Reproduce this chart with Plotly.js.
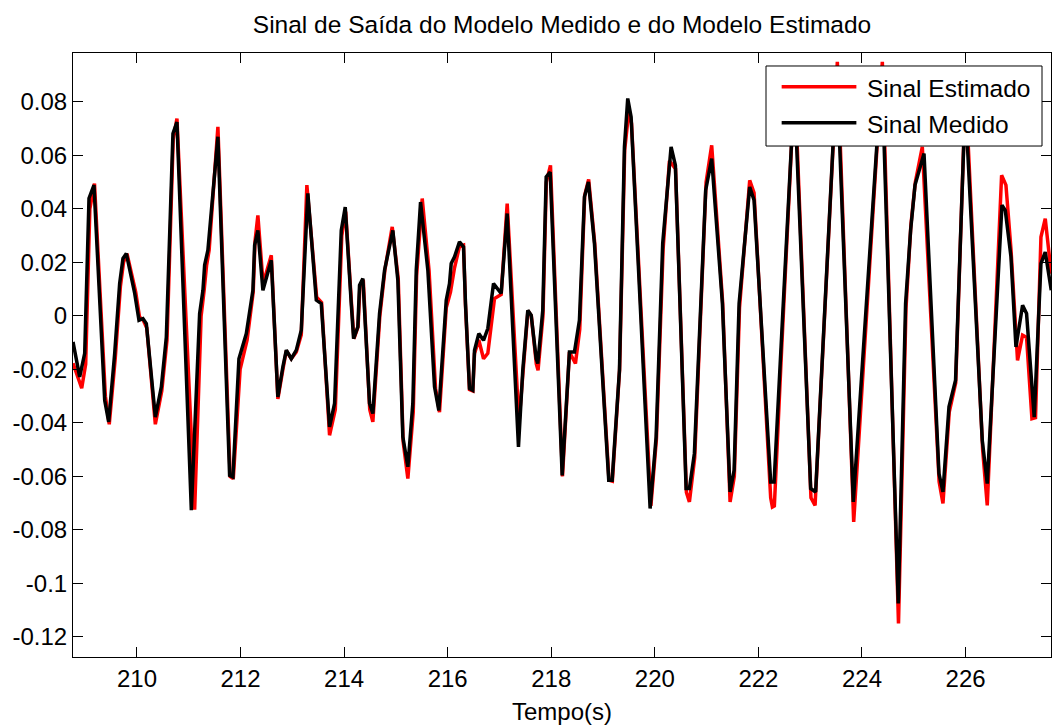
<!DOCTYPE html>
<html>
<head>
<meta charset="utf-8">
<script src="https://cdn.plot.ly/plotly-3.0.1.min.js"></script>
<style>html,body{margin:0;padding:0;background:#fff;}#chart{width:1053px;height:725px;}</style>
</head>
<body>
<div id="chart"></div>
<script>
// ---- data ----
var tMedido = [208.765,208.894,208.991,209.074,209.170,209.377,209.454,209.570,209.666,209.730,209.795,209.956,210.039,210.116,210.181,210.355,210.471,210.567,210.695,210.772,211.050,211.210,211.274,211.307,211.370,211.563,211.789,211.853,211.969,212.112,212.239,212.272,212.335,212.432,212.594,212.721,212.818,212.884,212.980,213.077,213.173,213.300,213.463,213.559,213.719,213.816,213.945,214.022,214.138,214.183,214.265,214.298,214.362,214.491,214.555,214.684,214.781,214.941,215.038,215.134,215.231,215.327,215.393,215.476,215.617,215.746,215.829,215.972,216.035,216.068,216.132,216.228,216.306,216.344,216.421,216.485,216.518,216.601,216.692,216.775,216.885,217.033,217.149,217.367,217.450,217.547,217.612,217.709,217.740,217.836,217.902,217.979,218.211,218.351,218.448,218.544,218.641,218.718,218.834,219.110,219.176,219.317,219.413,219.477,219.542,219.909,220.025,220.152,220.314,220.397,220.604,220.668,220.764,220.982,221.098,221.305,221.453,221.531,221.627,221.832,221.916,222.237,222.303,222.430,222.694,223.009,223.105,223.514,223.833,224.383,224.701,224.842,224.939,225.024,225.198,225.487,225.564,225.680,225.807,225.994,226.323,226.419,226.703,226.767,226.877,226.973,227.101,227.178,227.326,227.456,227.539,227.655];
var yMedido = [-0.0097,-0.0228,-0.014,0.044,0.0489,-0.0315,-0.0396,-0.014,0.0122,0.0215,0.0233,0.0085,-0.0016,-0.001,-0.0029,-0.0378,-0.0265,-0.0079,0.0682,0.0725,-0.0726,0.0009,0.0096,0.019,0.0246,0.067,-0.0596,-0.0602,-0.016,-0.0066,0.0096,0.0264,0.032,0.0096,0.0208,-0.0303,-0.019,-0.0128,-0.016,-0.0128,-0.0053,0.0458,0.0059,0.0046,-0.0415,-0.0327,0.032,0.0407,0.0046,-0.0085,-0.0041,0.0115,0.014,-0.0327,-0.0365,0.0009,0.0171,0.032,0.0133,-0.0452,-0.0564,-0.0327,0.0171,0.0426,0.0171,-0.0265,-0.0353,0.0059,0.0121,0.0196,0.0221,0.0277,0.0258,0.0046,-0.0271,-0.0278,-0.0128,-0.0066,-0.0091,-0.0047,0.0121,0.0084,0.0383,-0.049,-0.0203,0.0021,0.0003,-0.016,-0.0178,0.0021,0.052,0.0538,-0.0596,-0.0135,-0.0135,-0.0016,0.0445,0.0501,0.0271,-0.0614,-0.0614,-0.0203,0.0632,0.0813,0.0744,-0.072,-0.0452,0.0271,0.0632,0.0563,-0.0645,-0.0645,-0.0514,0.047,0.0588,0.0046,-0.0658,-0.0577,0.0046,0.0482,0.0433,-0.0621,-0.0621,-0.014,0.085,-0.0645,-0.0658,0.092,-0.0695,0.092,-0.1075,0.0046,0.032,0.0489,0.0607,-0.0589,-0.0658,-0.034,-0.024,0.08,-0.0465,-0.0627,0.0414,0.0395,0.0221,-0.0116,0.004,0.0009,-0.0378,0.0196,0.0239,0.0096];

var tEstimado = [208.765,208.933,209.010,209.090,209.180,209.390,209.465,209.580,209.680,209.740,209.807,209.975,210.050,210.120,210.190,210.355,210.480,210.580,210.700,210.772,211.114,211.239,211.297,211.345,211.394,211.563,211.800,211.860,211.992,212.127,212.245,212.280,212.335,212.436,212.594,212.721,212.818,212.884,212.980,213.077,213.173,213.281,213.470,213.565,213.719,213.830,213.955,214.030,214.145,214.190,214.270,214.305,214.370,214.495,214.555,214.690,214.790,214.929,215.045,215.140,215.231,215.335,215.400,215.508,215.640,215.765,215.842,215.972,216.055,216.132,216.228,216.306,216.344,216.421,216.485,216.518,216.601,216.692,216.775,216.904,217.033,217.149,217.377,217.455,217.550,217.615,217.712,217.745,217.840,217.905,217.985,218.217,218.351,218.467,218.550,218.645,218.722,218.840,219.115,219.180,219.320,219.418,219.500,219.550,219.924,220.031,220.160,220.282,220.400,220.610,220.668,220.770,220.990,221.098,221.310,221.453,221.535,221.635,221.832,221.916,222.237,222.270,222.308,222.440,222.700,223.015,223.094,223.524,223.840,224.393,224.705,224.850,224.945,225.030,225.165,225.490,225.564,225.685,225.810,226.000,226.330,226.419,226.696,226.780,226.877,227.004,227.101,227.178,227.282,227.351,227.456,227.539,227.655];
var yEstimado = [-0.0177,-0.027,-0.018,0.040,0.0495,-0.030,-0.0405,-0.016,0.011,0.020,0.0233,0.009,-0.0005,-0.0015,-0.0045,-0.0405,-0.028,-0.009,0.066,0.0738,-0.0724,0.000,0.0096,0.019,0.0246,0.0707,-0.060,-0.0608,-0.020,-0.009,0.009,0.028,0.0376,0.012,0.0227,-0.031,-0.020,-0.013,-0.016,-0.0135,-0.007,0.0489,0.007,0.005,-0.0446,-0.035,0.030,0.039,0.004,-0.0085,-0.004,0.011,0.0135,-0.035,-0.0396,0.000,0.0175,0.0333,0.014,-0.047,-0.0608,-0.036,0.015,0.0439,0.017,-0.027,-0.036,0.003,0.009,0.018,0.026,0.0265,0.004,-0.0275,-0.028,-0.014,-0.009,-0.016,-0.014,0.0065,0.008,0.042,-0.040,-0.020,0.002,0.000,-0.018,-0.0203,0.000,0.050,0.0563,-0.060,-0.0135,-0.0178,-0.005,0.045,0.051,0.027,-0.0614,-0.0618,-0.020,0.062,0.077,0.072,-0.071,-0.046,0.025,0.058,0.055,-0.066,-0.0695,-0.053,0.050,0.0638,0.005,-0.0695,-0.060,0.003,0.0507,0.046,-0.068,-0.0714,-0.071,-0.016,0.088,-0.068,-0.0708,0.095,-0.077,0.095,-0.115,0.003,0.034,0.050,0.0632,-0.062,-0.0701,-0.036,-0.025,0.085,-0.050,-0.0708,0.0526,0.0489,0.025,-0.0166,-0.0072,-0.008,-0.0384,-0.038,0.0295,0.0364,0.0158];

var xTickVals = [210,212,214,216,218,220,222,224,226];
var xTickText = ["210","212","214","216","218","220","222","224","226"];
var yTickVals = [0.08,0.06,0.04,0.02,0,-0.02,-0.04,-0.06,-0.08,-0.1,-0.12];
var yTickText = ["0.08","0.06","0.04","0.02","0","-0.02","-0.04","-0.06","-0.08","-0.1","-0.12"];

var seriesNames = ["Sinal Estimado","Sinal Medido"];
var seriesColors = ["#ff0000","#000000"];

var FONT = "'Liberation Sans', Arial, Helvetica, sans-serif";

var traces = [
  {x: tEstimado, y: yEstimado, type: "scatter", mode: "lines", name: seriesNames[0],
   line: {color: seriesColors[0], width: 3.5}, showlegend: false, hoverinfo: "skip"},
  {x: tMedido, y: yMedido, type: "scatter", mode: "lines", name: seriesNames[1],
   line: {color: seriesColors[1], width: 3.5}, showlegend: false, hoverinfo: "skip"}
];

// legend box (paper coordinates)
var lgX0 = 0.7086, lgX1 = 0.9908, lgY0 = 0.846, lgY1 = 0.9785;
var lgLineX0 = 0.7246, lgLineX1 = 0.8010, lgTextX = 0.8098;
var lgRowY = [0.9442, 0.8846];
var lgTextY = [0.9410, 0.8810];

var shapes = [
  {type: "rect", xref: "paper", yref: "paper", x0: lgX0, x1: lgX1, y0: lgY0, y1: lgY1,
   fillcolor: "#ffffff", line: {color: "#000000", width: 1}, layer: "above"}
];
var annotations = [];
for (var i = 0; i < seriesNames.length; i++) {
  shapes.push({type: "line", xref: "paper", yref: "paper", x0: lgLineX0, x1: lgLineX1,
    y0: lgRowY[i], y1: lgRowY[i], line: {color: seriesColors[i], width: 3.5}, layer: "above"});
  annotations.push({xref: "paper", yref: "paper", x: lgTextX, y: lgTextY[i], xanchor: "left",
    yanchor: "middle", text: seriesNames[i], showarrow: false,
    font: {family: FONT, size: 24.5, color: "#000"}});
}

var layout = {
  width: 1053, height: 725,
  margin: {l: 73, r: 2, t: 53, b: 68, pad: 0},
  paper_bgcolor: "#ffffff", plot_bgcolor: "#ffffff",
  font: {family: FONT, size: 24, color: "#000"},
  title: {text: "Sinal de Saída do Modelo Medido e do Modelo Estimado", x: 0.5, xref: "paper",
    y: 0.967, yref: "container", yanchor: "middle", font: {family: FONT, size: 24.5, color: "#000"}},
  xaxis: {range: [208.765, 227.65], tickvals: xTickVals, ticktext: xTickText,
    ticks: "inside", ticklen: 10, tickwidth: 1, tickcolor: "#000",
    showline: true, linecolor: "#000", linewidth: 1, mirror: "ticks",
    showgrid: false, zeroline: false,
    tickfont: {family: FONT, size: 24, color: "#000"},
    title: {text: "Tempo(s)", standoff: 12, font: {family: FONT, size: 24, color: "#000"}}},
  yaxis: {range: [-0.1275, 0.0983], tickvals: yTickVals, ticktext: yTickText,
    ticks: "inside", ticklen: 10, tickwidth: 1, tickcolor: "#000",
    showline: true, linecolor: "#000", linewidth: 1, mirror: "ticks",
    showgrid: false, zeroline: false,
    tickfont: {family: FONT, size: 24, color: "#000"}},
  shapes: shapes,
  annotations: annotations,
  showlegend: false
};

Plotly.newPlot("chart", traces, layout, {displayModeBar: false, staticPlot: true});
</script>
</body>
</html>
